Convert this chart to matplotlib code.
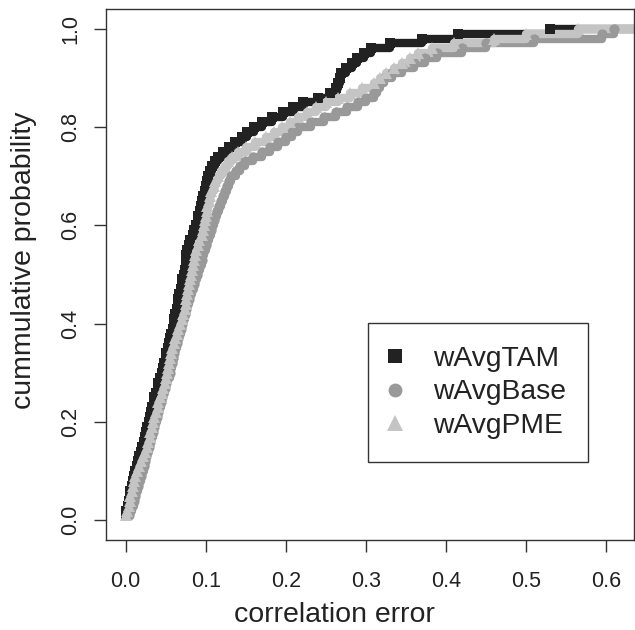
import numpy as np
import matplotlib
matplotlib.use("Agg")
import matplotlib.pyplot as plt
from matplotlib.lines import Line2D

plt.rcParams['font.family'] = ['Liberation Sans', 'DejaVu Sans']

# sorted correlation errors, 100 values per series
tam = [0.000, 0.001, 0.003, 0.004, 0.005, 0.006, 0.008, 0.009, 0.011, 0.012,
       0.014, 0.016, 0.017, 0.019, 0.021, 0.023, 0.024, 0.026, 0.027, 0.029,
       0.030, 0.032, 0.033, 0.035, 0.036, 0.038, 0.040, 0.041, 0.043, 0.045,
       0.047, 0.048, 0.050, 0.051, 0.053, 0.054, 0.056, 0.057, 0.059, 0.060,
       0.061, 0.062, 0.064, 0.065, 0.066, 0.067, 0.069, 0.070, 0.071, 0.073,
       0.074, 0.075, 0.075, 0.076, 0.077, 0.079, 0.081, 0.084, 0.086, 0.088,
       0.090, 0.091, 0.093, 0.094, 0.096, 0.097, 0.099, 0.100, 0.102, 0.103,
       0.105, 0.108, 0.111, 0.115, 0.121, 0.129, 0.137, 0.145, 0.152, 0.160,
       0.170, 0.183, 0.196, 0.209, 0.222, 0.240, 0.255, 0.262, 0.265, 0.267,
       0.269, 0.275, 0.282, 0.289, 0.298, 0.306, 0.330, 0.370, 0.415, 0.530]

base = [0.004, 0.006, 0.008, 0.010, 0.012, 0.013, 0.015, 0.017, 0.019, 0.021,
        0.023, 0.024, 0.026, 0.027, 0.029, 0.031, 0.032, 0.034, 0.036, 0.037,
        0.039, 0.041, 0.042, 0.044, 0.046, 0.047, 0.049, 0.050, 0.052, 0.055,
        0.056, 0.058, 0.059, 0.061, 0.062, 0.064, 0.065, 0.067, 0.069, 0.071,
        0.072, 0.074, 0.076, 0.077, 0.079, 0.081, 0.083, 0.085, 0.087, 0.089,
        0.091, 0.093, 0.095, 0.096, 0.098, 0.100, 0.102, 0.104, 0.106, 0.108,
        0.110, 0.112, 0.114, 0.117, 0.119, 0.121, 0.124, 0.126, 0.129, 0.132,
        0.138, 0.143, 0.149, 0.159, 0.170, 0.180, 0.190, 0.200, 0.208, 0.215,
        0.231, 0.248, 0.262, 0.276, 0.290, 0.300, 0.310, 0.314, 0.318, 0.322,
        0.333, 0.345, 0.360, 0.374, 0.389, 0.420, 0.450, 0.510, 0.595, 0.610]

pme = [0.001, 0.002, 0.004, 0.005, 0.006, 0.008, 0.009, 0.011, 0.012, 0.014,
       0.017, 0.019, 0.022, 0.024, 0.027, 0.028, 0.030, 0.031, 0.033, 0.034,
       0.036, 0.038, 0.040, 0.041, 0.043, 0.045, 0.047, 0.049, 0.051, 0.052,
       0.053, 0.054, 0.055, 0.057, 0.058, 0.060, 0.062, 0.064, 0.066, 0.068,
       0.070, 0.072, 0.074, 0.075, 0.076, 0.077, 0.078, 0.079, 0.081, 0.082,
       0.083, 0.084, 0.085, 0.087, 0.088, 0.090, 0.092, 0.095, 0.097, 0.098,
       0.099, 0.100, 0.101, 0.102, 0.104, 0.105, 0.107, 0.110, 0.112, 0.115,
       0.119, 0.124, 0.128, 0.133, 0.140, 0.150, 0.162, 0.175, 0.185, 0.195,
       0.205, 0.215, 0.227, 0.238, 0.250, 0.265, 0.280, 0.295, 0.310, 0.318,
       0.325, 0.335, 0.345, 0.355, 0.365, 0.382, 0.410, 0.460, 0.500, 0.565]

labels = ["wAvgTAM", "wAvgBase", "wAvgPME"]
colors = ["#222222", "#999999", "#c4c4c4"]
markers = ["s", "o", "^"]
msizes = [7.0, 7.4, 8.4]

xticks = [0.0, 0.1, 0.2, 0.3, 0.4, 0.5, 0.6]
yticks = [0.0, 0.2, 0.4, 0.6, 0.8, 1.0]

fig = plt.figure(figsize=(6.35, 6.3), dpi=100)
ax = fig.add_axes([106 / 635, 90 / 630, 528 / 635, 531 / 630])
ax.set_xlim(-0.0244, 0.6344)
ax.set_ylim(-0.04, 1.04)
xlo, xhi = ax.get_xlim()

for data, col, mk, ms in zip([tam, base, pme], colors, markers, msizes):
    xs = np.sort(np.asarray(data))
    ys = np.arange(1, len(xs) + 1) / len(xs)
    # ECDF step function; the top level runs on to the right plot edge
    sx = np.concatenate([xs, [xhi + 1]])
    sy = np.concatenate([ys, [1.0]])
    ax.step(sx, sy, where='post', color=col, lw=6.0, zorder=2,
            solid_capstyle='butt')
    ax.plot(xs, ys, linestyle='none', marker=mk, markersize=ms,
            color=col, markeredgewidth=0, zorder=3)

ax.set_xlim(xlo, xhi)
ax.set_xticks(xticks)
ax.set_xticklabels([f"{v:.1f}" for v in xticks])
ax.set_yticks(yticks)
ax.set_yticklabels([f"{v:.1f}" for v in yticks], rotation=90, va='center')

for s in ax.spines.values():
    s.set_color("#333333")
    s.set_linewidth(1.0)
    s.set_zorder(5)
ax.tick_params(axis='both', direction='out', length=8.6, width=1.0,
               color="#333333", labelsize=15.5, labelcolor="#222222")
ax.tick_params(axis='x', pad=14)
ax.tick_params(axis='y', pad=9)

ax.set_xlabel("correlation error", fontsize=20.5, color="#222222")
ax.set_ylabel("cummulative probability", fontsize=20.5, color="#222222")
ax.xaxis.set_label_coords(0.432, -0.116)
ax.yaxis.set_label_coords(-0.130, 0.527)

handles = [Line2D([], [], linestyle='none', marker=mk, markersize=ms * 1.35,
                  color=col, markeredgewidth=0)
           for col, mk, ms in zip(colors, markers, msizes)]
leg = ax.legend(handles, labels, loc='upper left',
                bbox_to_anchor=((368 - 106) / 528, (540 - 323) / 531),
                fontsize=20.3, frameon=True, fancybox=False, framealpha=1,
                edgecolor="#333333", borderpad=0.8, labelspacing=0.28,
                handlelength=0.3, handletextpad=1.2, borderaxespad=0)
leg.get_frame().set_linewidth(1.0)
leg.set_zorder(6)
for t in leg.get_texts():
    t.set_color("#222222")

fig.savefig("out.png", dpi=100)
